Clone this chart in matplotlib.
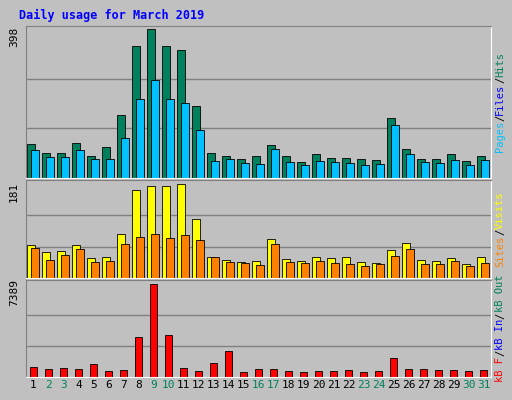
import matplotlib
matplotlib.use("Agg")
import matplotlib.pyplot as plt
import numpy as np

days = list(range(1, 32))
hits = [91,67,67,94,59,83,167,352,398,352,341,191,67,59,51,59,89,59,43,64,54,54,51,48,159,78,51,51,64,46,59]
files = [75,56,56,75,51,51,107,212,263,212,201,129,46,51,40,38,78,43,35,46,43,40,35,38,142,64,43,40,48,35,48]
visits = [63,49,51,63,39,41,85,169,177,177,181,114,41,35,31,33,75,37,33,41,39,41,31,29,53,67,35,33,39,27,41]
sites = [57,35,45,55,31,33,65,79,85,77,83,73,41,31,29,25,65,31,29,33,29,27,23,27,43,55,27,27,33,23,29]
kbytes = [800,640,720,640,1040,480,560,3130,7389,3290,720,480,1120,2090,400,640,640,480,400,480,480,560,400,480,1520,640,640,560,560,480,560]
weekend = {2,3,9,10,16,17,23,24,30,31}

W, H = 512, 400
fig = plt.figure(figsize=(W/100, H/100), dpi=100)
fig.patch.set_facecolor("#C0C0C0")
mono = "DejaVu Sans Mono"

def ax_at(x0, y0, x1, y1):
    a = fig.add_axes([x0/W, 1-y1/H, (x1-x0)/W, (y1-y0)/H])
    a.set_facecolor("#C0C0C0")
    a.set_xlim(0.5, 31.5)
    a.set_xticks([]); a.set_yticks([])
    for s in ["top", "left"]:
        a.spines[s].set_color("#808080")
    for s in ["bottom", "right"]:
        a.spines[s].set_color("#FFFFFF")
    return a

x = np.array(days)
bw = 0.55
a1 = ax_at(26, 26, 491, 178)
m1 = max(hits)
a1.set_ylim(0, m1*1.02)
for g in (m1/3, 2*m1/3): a1.axhline(g, color="#808080", lw=1, zorder=0)
a1.bar(x-0.17, hits, bw, color="#00805C", edgecolor="black", lw=0.6)
a1.bar(x+0.12, files, bw, color="#00C0FF", edgecolor="black", lw=0.6)

a2 = ax_at(26, 180, 491, 278)
m2 = max(visits)
a2.set_ylim(0, m2*1.04)
for g in (m2/3, 2*m2/3): a2.axhline(g, color="#808080", lw=1, zorder=0)
a2.bar(x-0.17, visits, bw, color="#FFFF00", edgecolor="black", lw=0.6)
a2.bar(x+0.12, sites, bw, color="#FF8000", edgecolor="black", lw=0.6)

a3 = ax_at(26, 280, 491, 377)
m3 = max(kbytes)
a3.set_ylim(0, m3*1.04)
for g in (m3/3, 2*m3/3): a3.axhline(g, color="#808080", lw=1, zorder=0)
a3.bar(x, kbytes, 0.45, color="#FF0000", edgecolor="black", lw=0.6)
for d in days:
    a3.text(d, -0.03, str(d), transform=a3.get_xaxis_transform(), ha="center", va="top",
            fontsize=8, family=mono, color="#00805C" if d in weekend else "black")

fig.text(19/W, 1-15/H, "Daily usage for March 2019", family=mono, fontsize=8.5,
         fontweight="bold", color="#0000FF", va="center")
for txt, yc in (("398", 37), ("181", 192), ("7389", 292)):
    fig.text(14/W, 1-yc/H, txt, rotation=90, family=mono, fontsize=8, ha="center", va="center")

def side(parts, yc):
    total = sum(len(p) for p, _ in parts)
    ch = 6.3
    y = yc + total*ch/2
    for p, c in parts:
        fig.text(500/W, 1-y/H, p, rotation=90, family=mono, fontsize=7.5, color=c,
                 ha="center", va="bottom")
        y -= len(p)*ch
side([("Pages", "#00C0FF"), ("/", "black"), ("Files", "#0000FF"), ("/", "black"), ("Hits", "#00805C")], 102)
side([("Sites", "#FF8000"), ("/", "black"), ("Visits", "#FFFF00")], 229)
side([("kB F", "#FF0000"), ("/", "black"), ("kB In", "#0000FF"), ("/", "black"), ("kB Out", "#00805C")], 328)

fig.savefig("out.png", dpi=100, facecolor=fig.get_facecolor())
